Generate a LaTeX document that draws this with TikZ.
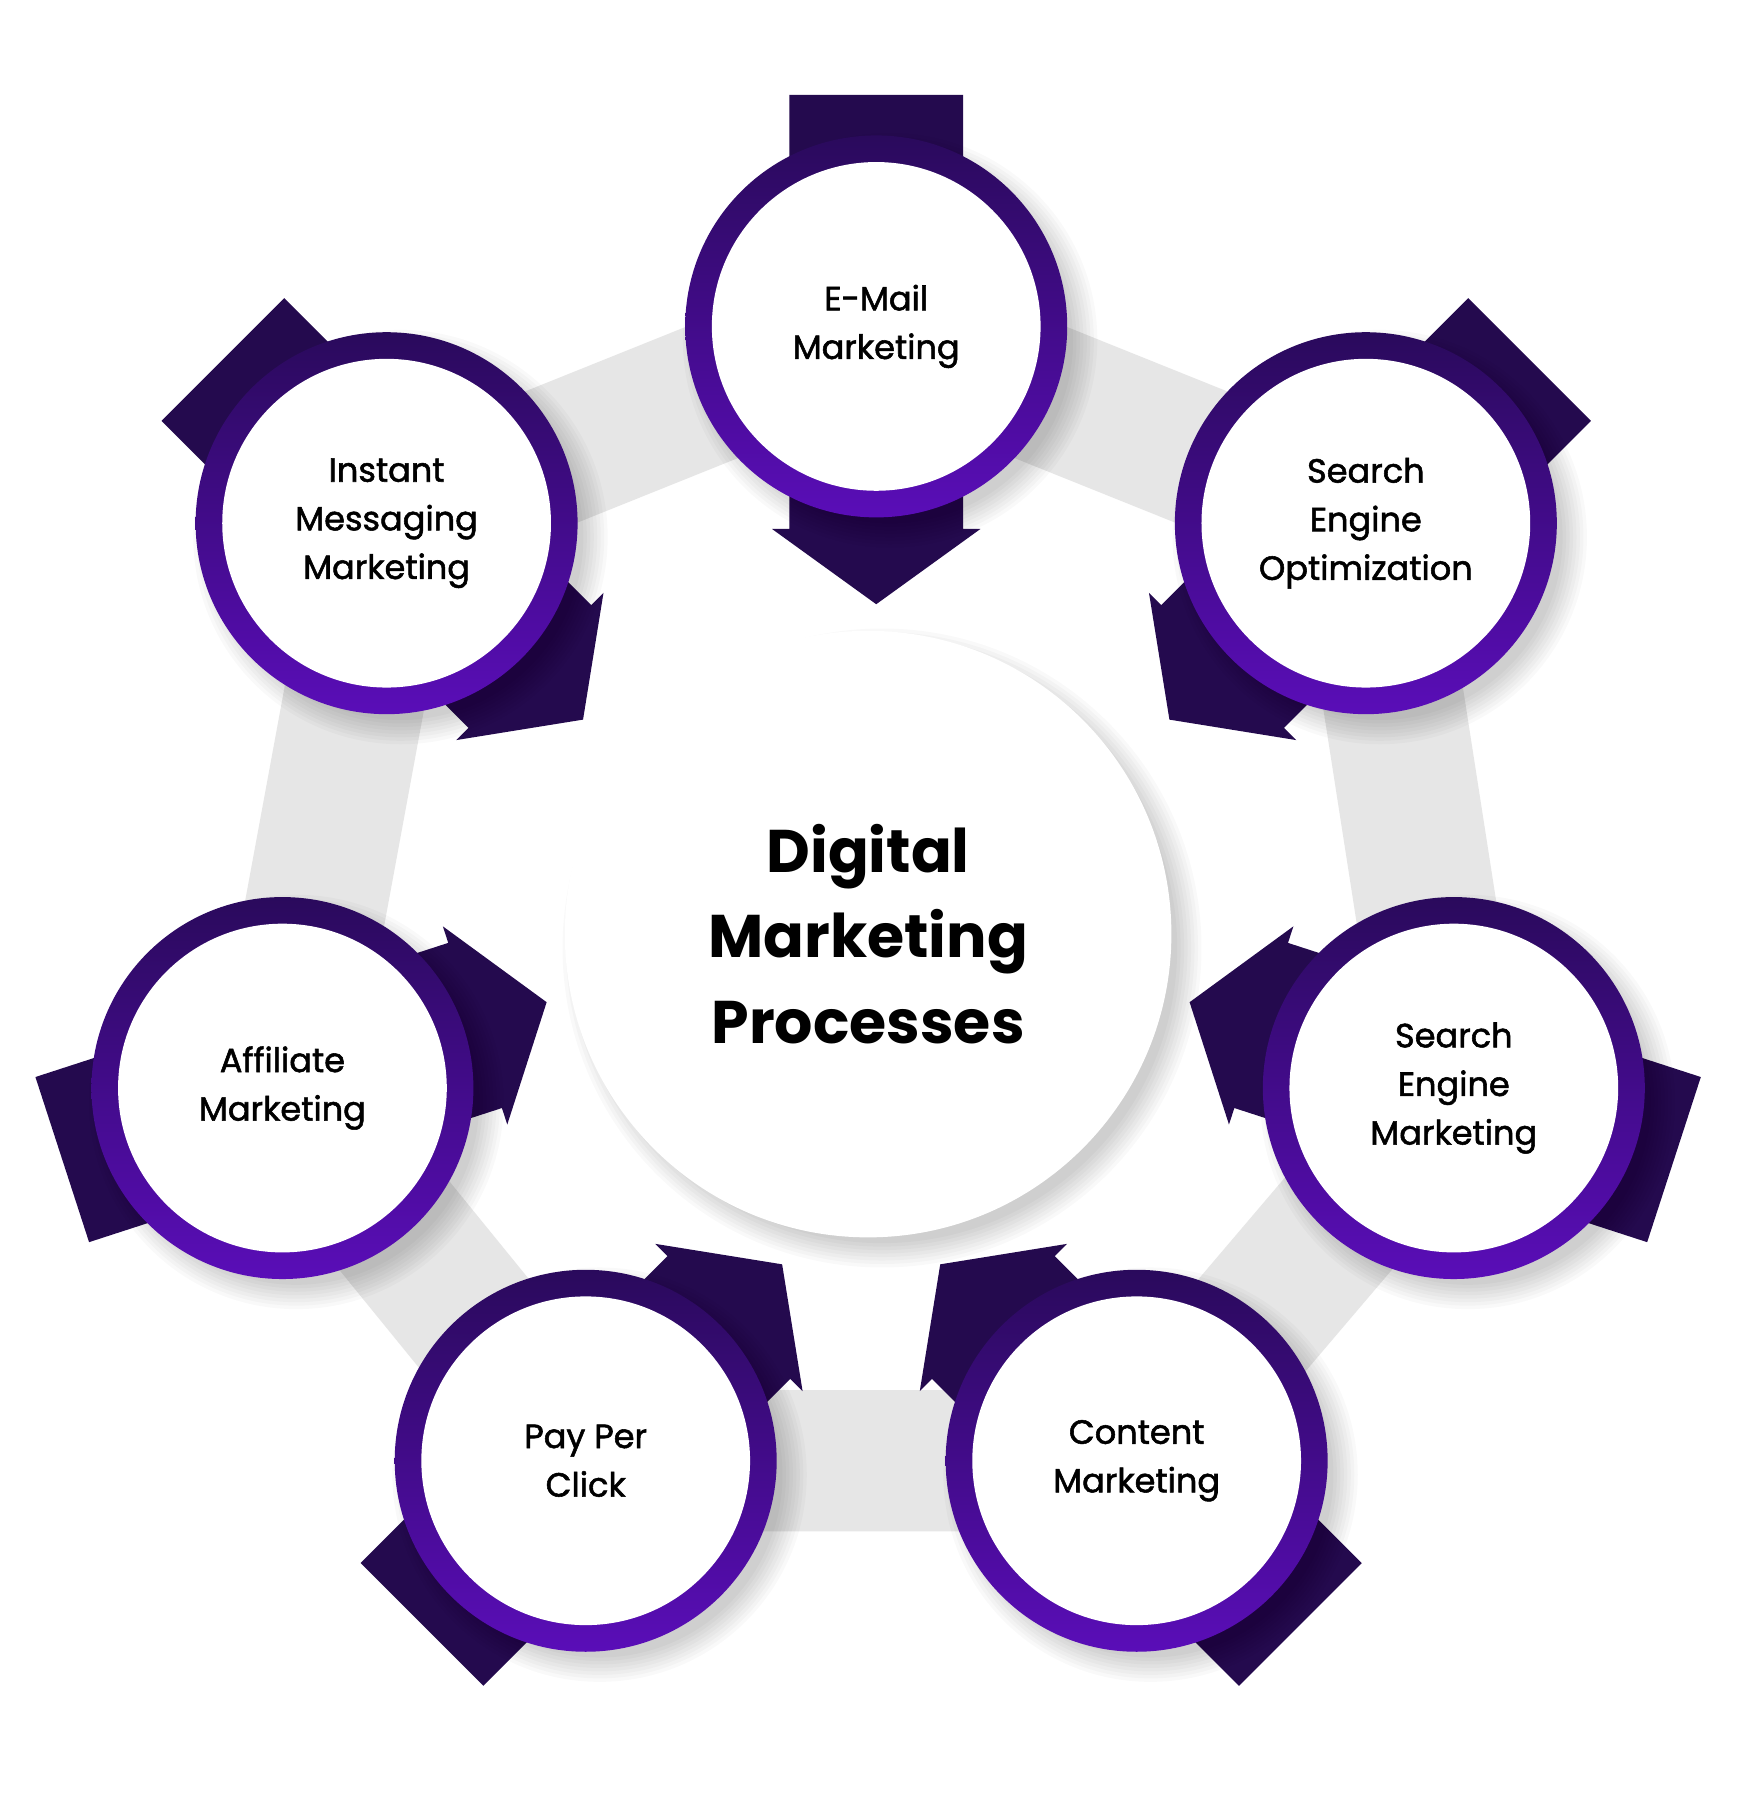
\documentclass[tikz,border=0pt]{standalone}
\usepackage{fontspec}
\setmainfont{Poppins}
\newfontfamily\medfont{Poppins}[FakeBold=1.6]
\definecolor{arrowc}{HTML}{240A4E}
\definecolor{ringtop}{HTML}{2A0A5C}
\definecolor{ringbot}{HTML}{5A0DB8}
\definecolor{band}{HTML}{E6E6E6}
\tikzset{
  ring/.style={circle,minimum size=330pt,inner sep=0pt,top color=ringtop,bottom color=ringbot},
  inner/.style={circle,fill=white,minimum size=284pt,inner sep=0pt,align=center,
    font=\medfont\fontsize{29}{42}\selectfont,text=black},
  bigc/.style={circle,fill=white,minimum size=524pt,inner sep=0pt,align=center,
    font=\fontsize{52}{74}\selectfont\bfseries},
}
\newcommand{\softshadow}[2]{%
  \foreach \k in {0,...,7} {\fill[black,opacity=0.025] ([shift={(12,12)}]#1) circle ({#2+14-3*\k});}}
\newcommand{\bigarrow}[2]{%
  \begin{scope}[shift={(#1)},rotate=#2]
    \fill[arrowc] (-200,-75) -- (175,-75) -- (175,-90) -- (240,0) -- (175,90) -- (175,75) -- (-200,75) -- cycle;
  \end{scope}}
\begin{document}
\begin{tikzpicture}[x=1pt,y=-1pt]
\useasboundingbox[fill=white] (0,0) rectangle (1520,1562);
\coordinate (cE) at (757,282);
\coordinate (cS) at (1180,452);
\coordinate (cM) at (1256,940);
\coordinate (cC) at (982,1262);
\coordinate (cP) at (506,1262);
\coordinate (cA) at (244,940);
\coordinate (cI) at (334,452);
\coordinate (cO) at (750,807);
\draw[band,line width=122pt,line join=miter] (cE) -- (cS) -- (cM) -- (cC) -- (cP) -- (cA) -- (cI) -- cycle;
\bigarrow{cE}{-90}
\bigarrow{cS}{-135}
\bigarrow{cM}{162}
\bigarrow{cC}{135}
\bigarrow{cP}{45}
\bigarrow{cA}{18}
\bigarrow{cI}{-45}
\foreach \c in {cE,cS,cM,cC,cP,cA,cI} {\softshadow{\c}{165} \node[ring] (r\c) at (\c) {};}
\node[inner] (nE) at (cE) {E-Mail\\Marketing};
\node[inner] (nS) at (cS) {Search\\Engine\\Optimization};
\node[inner] (nM) at (cM) {Search\\Engine\\Marketing};
\node[inner] (nC) at (cC) {Content\\Marketing};
\node[inner] (nP) at (cP) {Pay Per\\Click};
\node[inner] (nA) at (cA) {Affiliate\\Marketing};
\node[inner] (nI) at (cI) {Instant\\Messaging\\Marketing};
\softshadow{cO}{262}
\node[bigc] (center) at (cO) {Digital\\Marketing\\Processes};
\end{tikzpicture}
\end{document}
